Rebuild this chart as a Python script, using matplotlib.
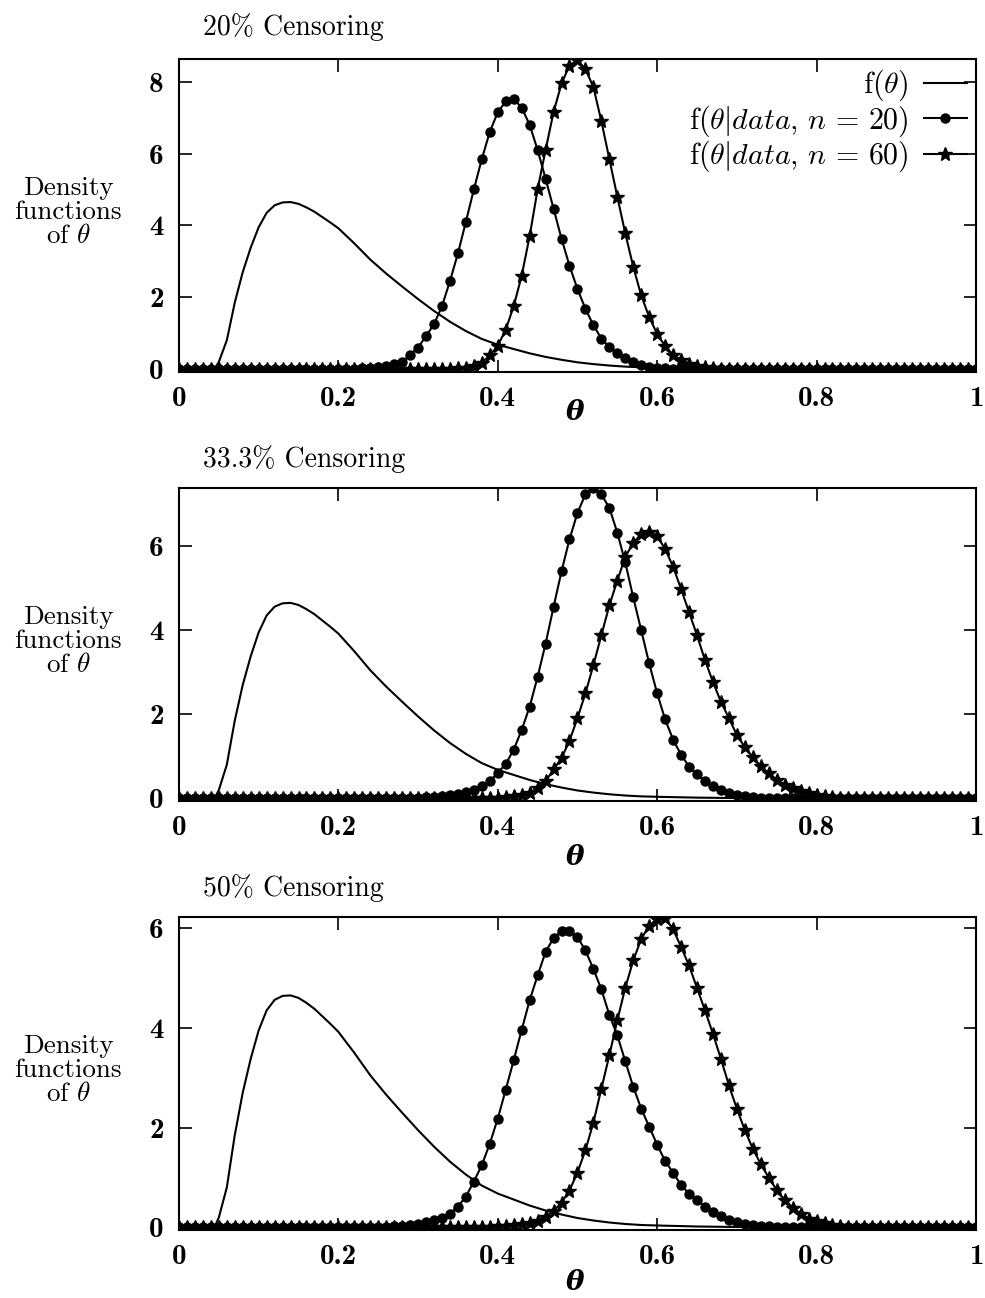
#!/usr/bin/env python3
"""Posterior vs prior density of theta under three censoring levels"""

import numpy as np
import matplotlib
matplotlib.use('Agg')
import matplotlib.pyplot as plt

# prior f(theta), same in every panel
PRIOR_THETA = [0.00, 0.04, 0.045, 0.05, 0.06, 0.07, 0.08, 0.09, 0.10, 0.11, 0.12,
               0.13, 0.14, 0.15, 0.16, 0.17, 0.18, 0.19, 0.20, 0.22, 0.24, 0.26,
               0.28, 0.30, 0.32, 0.34, 0.36, 0.38, 0.40, 0.42, 0.44, 0.46, 0.48,
               0.50, 0.52, 0.54, 0.56, 0.58, 0.60, 0.65, 0.70, 0.75, 1.00]
PRIOR_DENS = [0.0, 0.0, 0.02, 0.2, 0.8, 1.85, 2.7, 3.38, 3.95, 4.35, 4.56,
              4.64, 4.65, 4.6, 4.5, 4.38, 4.23, 4.08, 3.92, 3.5, 3.05, 2.66,
              2.3, 1.95, 1.62, 1.32, 1.06, 0.84, 0.68, 0.56, 0.44, 0.34, 0.26,
              0.19, 0.14, 0.1, 0.07, 0.05, 0.04, 0.02, 0.01, 0.0, 0.0]

# posterior densities on the 0.01 grid; zero outside the listed stretch
GRID_STEP = 0.01

# 20% censoring
P20_N20_START = 0.20
P20_N20 = [0.0, 0.01, 0.01, 0.02, 0.03, 0.05, 0.08, 0.13, 0.2, 0.4, 0.6, 0.92,
           1.25, 1.75, 2.45, 3.22, 4.1, 5.0, 5.85, 6.6, 7.15, 7.45, 7.52, 7.28,
           6.8, 6.1, 5.3, 4.47, 3.63, 2.88, 2.23, 1.68, 1.22, 0.85, 0.62, 0.44,
           0.3, 0.2, 0.12, 0.07, 0.04, 0.02, 0.01]
P20_N60_START = 0.33
P20_N60 = [0.01, 0.01, 0.02, 0.04, 0.08, 0.18, 0.38, 0.65, 1.1, 1.75, 2.6,
           3.7, 5.0, 6.1, 7.15, 7.95, 8.45, 8.6, 8.35, 7.85, 6.9, 5.85, 4.8,
           3.78, 2.85, 2.05, 1.45, 0.98, 0.64, 0.4, 0.25, 0.15, 0.09, 0.05,
           0.03, 0.01]

# 33.3% censoring
P33_N20_START = 0.28
P33_N20 = [0.01, 0.01, 0.02, 0.03, 0.04, 0.06, 0.08, 0.11, 0.15, 0.21, 0.29,
           0.41, 0.61, 0.82, 1.16, 1.63, 2.18, 2.89, 3.68, 4.55, 5.4, 6.16,
           6.79, 7.23, 7.38, 7.23, 6.91, 6.32, 5.61, 4.78, 4.0, 3.21, 2.5,
           1.88, 1.4, 1.04, 0.76, 0.57, 0.41, 0.29, 0.21, 0.13, 0.08, 0.05,
           0.03, 0.01]
P33_N60_START = 0.38
P33_N60 = [0.01, 0.01, 0.02, 0.03, 0.05, 0.08, 0.13, 0.25, 0.41, 0.69, 0.96,
           1.37, 1.91, 2.5, 3.17, 3.88, 4.59, 5.18, 5.74, 6.08, 6.28, 6.34,
           6.24, 5.93, 5.51, 4.98, 4.43, 3.88, 3.29, 2.77, 2.3, 1.91, 1.51,
           1.22, 0.98, 0.77, 0.6, 0.45, 0.33, 0.24, 0.17, 0.12, 0.08, 0.05,
           0.03, 0.02, 0.01]

# 50% censoring
P50_N20_START = 0.24
P50_N20 = [0.01, 0.01, 0.01, 0.02, 0.03, 0.04, 0.06, 0.1, 0.15, 0.2, 0.28,
           0.42, 0.62, 0.92, 1.25, 1.68, 2.18, 2.76, 3.35, 3.96, 4.55, 5.05,
           5.52, 5.8, 5.94, 5.95, 5.82, 5.55, 5.18, 4.77, 4.26, 3.85, 3.33,
           2.82, 2.38, 2.02, 1.66, 1.33, 1.1, 0.85, 0.68, 0.55, 0.42, 0.32,
           0.23, 0.16, 0.1, 0.07, 0.05, 0.03, 0.02, 0.01]
P50_N60_START = 0.38
P50_N60 = [0.01, 0.01, 0.02, 0.03, 0.04, 0.06, 0.09, 0.14, 0.22, 0.33, 0.5,
           0.74, 1.1, 1.55, 2.1, 2.78, 3.45, 4.15, 4.8, 5.35, 5.78, 6.05,
           6.18, 6.2, 5.98, 5.62, 5.25, 4.8, 4.35, 3.88, 3.38, 2.85, 2.38,
           1.95, 1.58, 1.27, 1.0, 0.75, 0.55, 0.4, 0.28, 0.18, 0.12, 0.08,
           0.05, 0.03, 0.01]

TITLES = ['20% Censoring', '33.3% Censoring', '50% Censoring']
XTICKS = [0, 0.2, 0.4, 0.6, 0.8, 1.0]
XTICK_LABELS = ['0', '0.2', '0.4', '0.6', '0.8', '1']
YTICKS = [[0, 2, 4, 6, 8], [0, 2, 4, 6], [0, 2, 4, 6]]
YLIMS = [(-0.08, 8.63), (-0.06, 7.38), (-0.05, 6.22)]
LEGEND_LABELS = [r'f$(\theta)$', r'f$(\theta|data,\,n\,=\,20)$',
                 r'f$(\theta|data,\,n\,=\,60)$']


def full_series(start, values):
    # zero-padded series on the 0..1 grid
    n = int(round(1 / GRID_STEP)) + 1
    theta = np.round(np.arange(n) * GRID_STEP, 2)
    dens = np.zeros(n)
    i0 = int(round(start / GRID_STEP))
    dens[i0:i0 + len(values)] = values
    return theta, dens


def main():
    plt.rcParams['font.family'] = 'cmr10'
    plt.rcParams['mathtext.fontset'] = 'cm'
    plt.rcParams['axes.formatter.use_mathtext'] = True

    fig = plt.figure(figsize=(9.85, 12.98), dpi=100, facecolor='white')

    panels = [
        ((P20_N20_START, P20_N20), (P20_N60_START, P20_N60)),
        ((P33_N20_START, P33_N20), (P33_N60_START, P33_N60)),
        ((P50_N20_START, P50_N20), (P50_N60_START, P50_N60)),
    ]
    # axes boxes in figure fractions: left, bottom, width, height
    boxes = [
        (0.1817, 0.7134, 0.8091, 0.2411),
        (0.1817, 0.3829, 0.8091, 0.2411),
        (0.1817, 0.0524, 0.8091, 0.2411),
    ]
    title_y = [0.979, 0.646, 0.316]
    xlabel_y = [-0.128, -0.179, -0.169]

    for k, ((s20, v20), (s60, v60)) in enumerate(panels):
        ax = fig.add_axes(boxes[k])

        ax.plot(PRIOR_THETA, PRIOR_DENS, color='black', lw=1.5,
                label=LEGEND_LABELS[0], zorder=3)
        th, d20 = full_series(s20, v20)
        ax.plot(th, d20, color='black', lw=1.5, marker='o', ms=6.5,
                label=LEGEND_LABELS[1], zorder=4)
        th, d60 = full_series(s60, v60)
        ax.plot(th, d60, color='black', lw=1.5, marker='*', ms=10.5,
                label=LEGEND_LABELS[2], zorder=5)

        ax.set_xlim(0, 1)
        ax.set_ylim(*YLIMS[k])
        ax.set_xticks(XTICKS, labels=XTICK_LABELS, fontfamily='cmb10', fontsize=21)
        ax.set_yticks(YTICKS[k], labels=[str(t) for t in YTICKS[k]],
                      fontfamily='cmb10', fontsize=21)
        ax.tick_params(direction='in', top=True, right=True, length=9,
                       width=1.2)
        ax.tick_params(axis='x', pad=10)
        ax.tick_params(axis='y', pad=11)
        for sp in ax.spines.values():
            sp.set_linewidth(1.5)

        # panel title, y label block and theta label
        fig.text(0.206, title_y[k], TITLES[k], fontsize=20, ha='left',
                 va='center')
        ax.text(-0.139, 0.51, 'Density\nfunctions\n' + r'of $\theta$',
                transform=ax.transAxes, fontsize=19.5, ha='center',
                va='center', multialignment='center', linespacing=1.0)
        ax.text(0.497, xlabel_y[k], 'θ', transform=ax.transAxes,
                fontsize=20, ha='center', va='center',
                family='DejaVu Serif', style='italic', weight='bold')

        if k == 0:
            ax.legend(loc='upper right', frameon=False, markerfirst=False,
                      numpoints=1, fontsize=21.5, handlelength=1.45,
                      handletextpad=0.5, labelspacing=0.0,
                      borderaxespad=0.2, borderpad=0.1)

    fig.savefig('out.png', dpi=100, facecolor='white')
    plt.close(fig)


if __name__ == '__main__':
    main()
